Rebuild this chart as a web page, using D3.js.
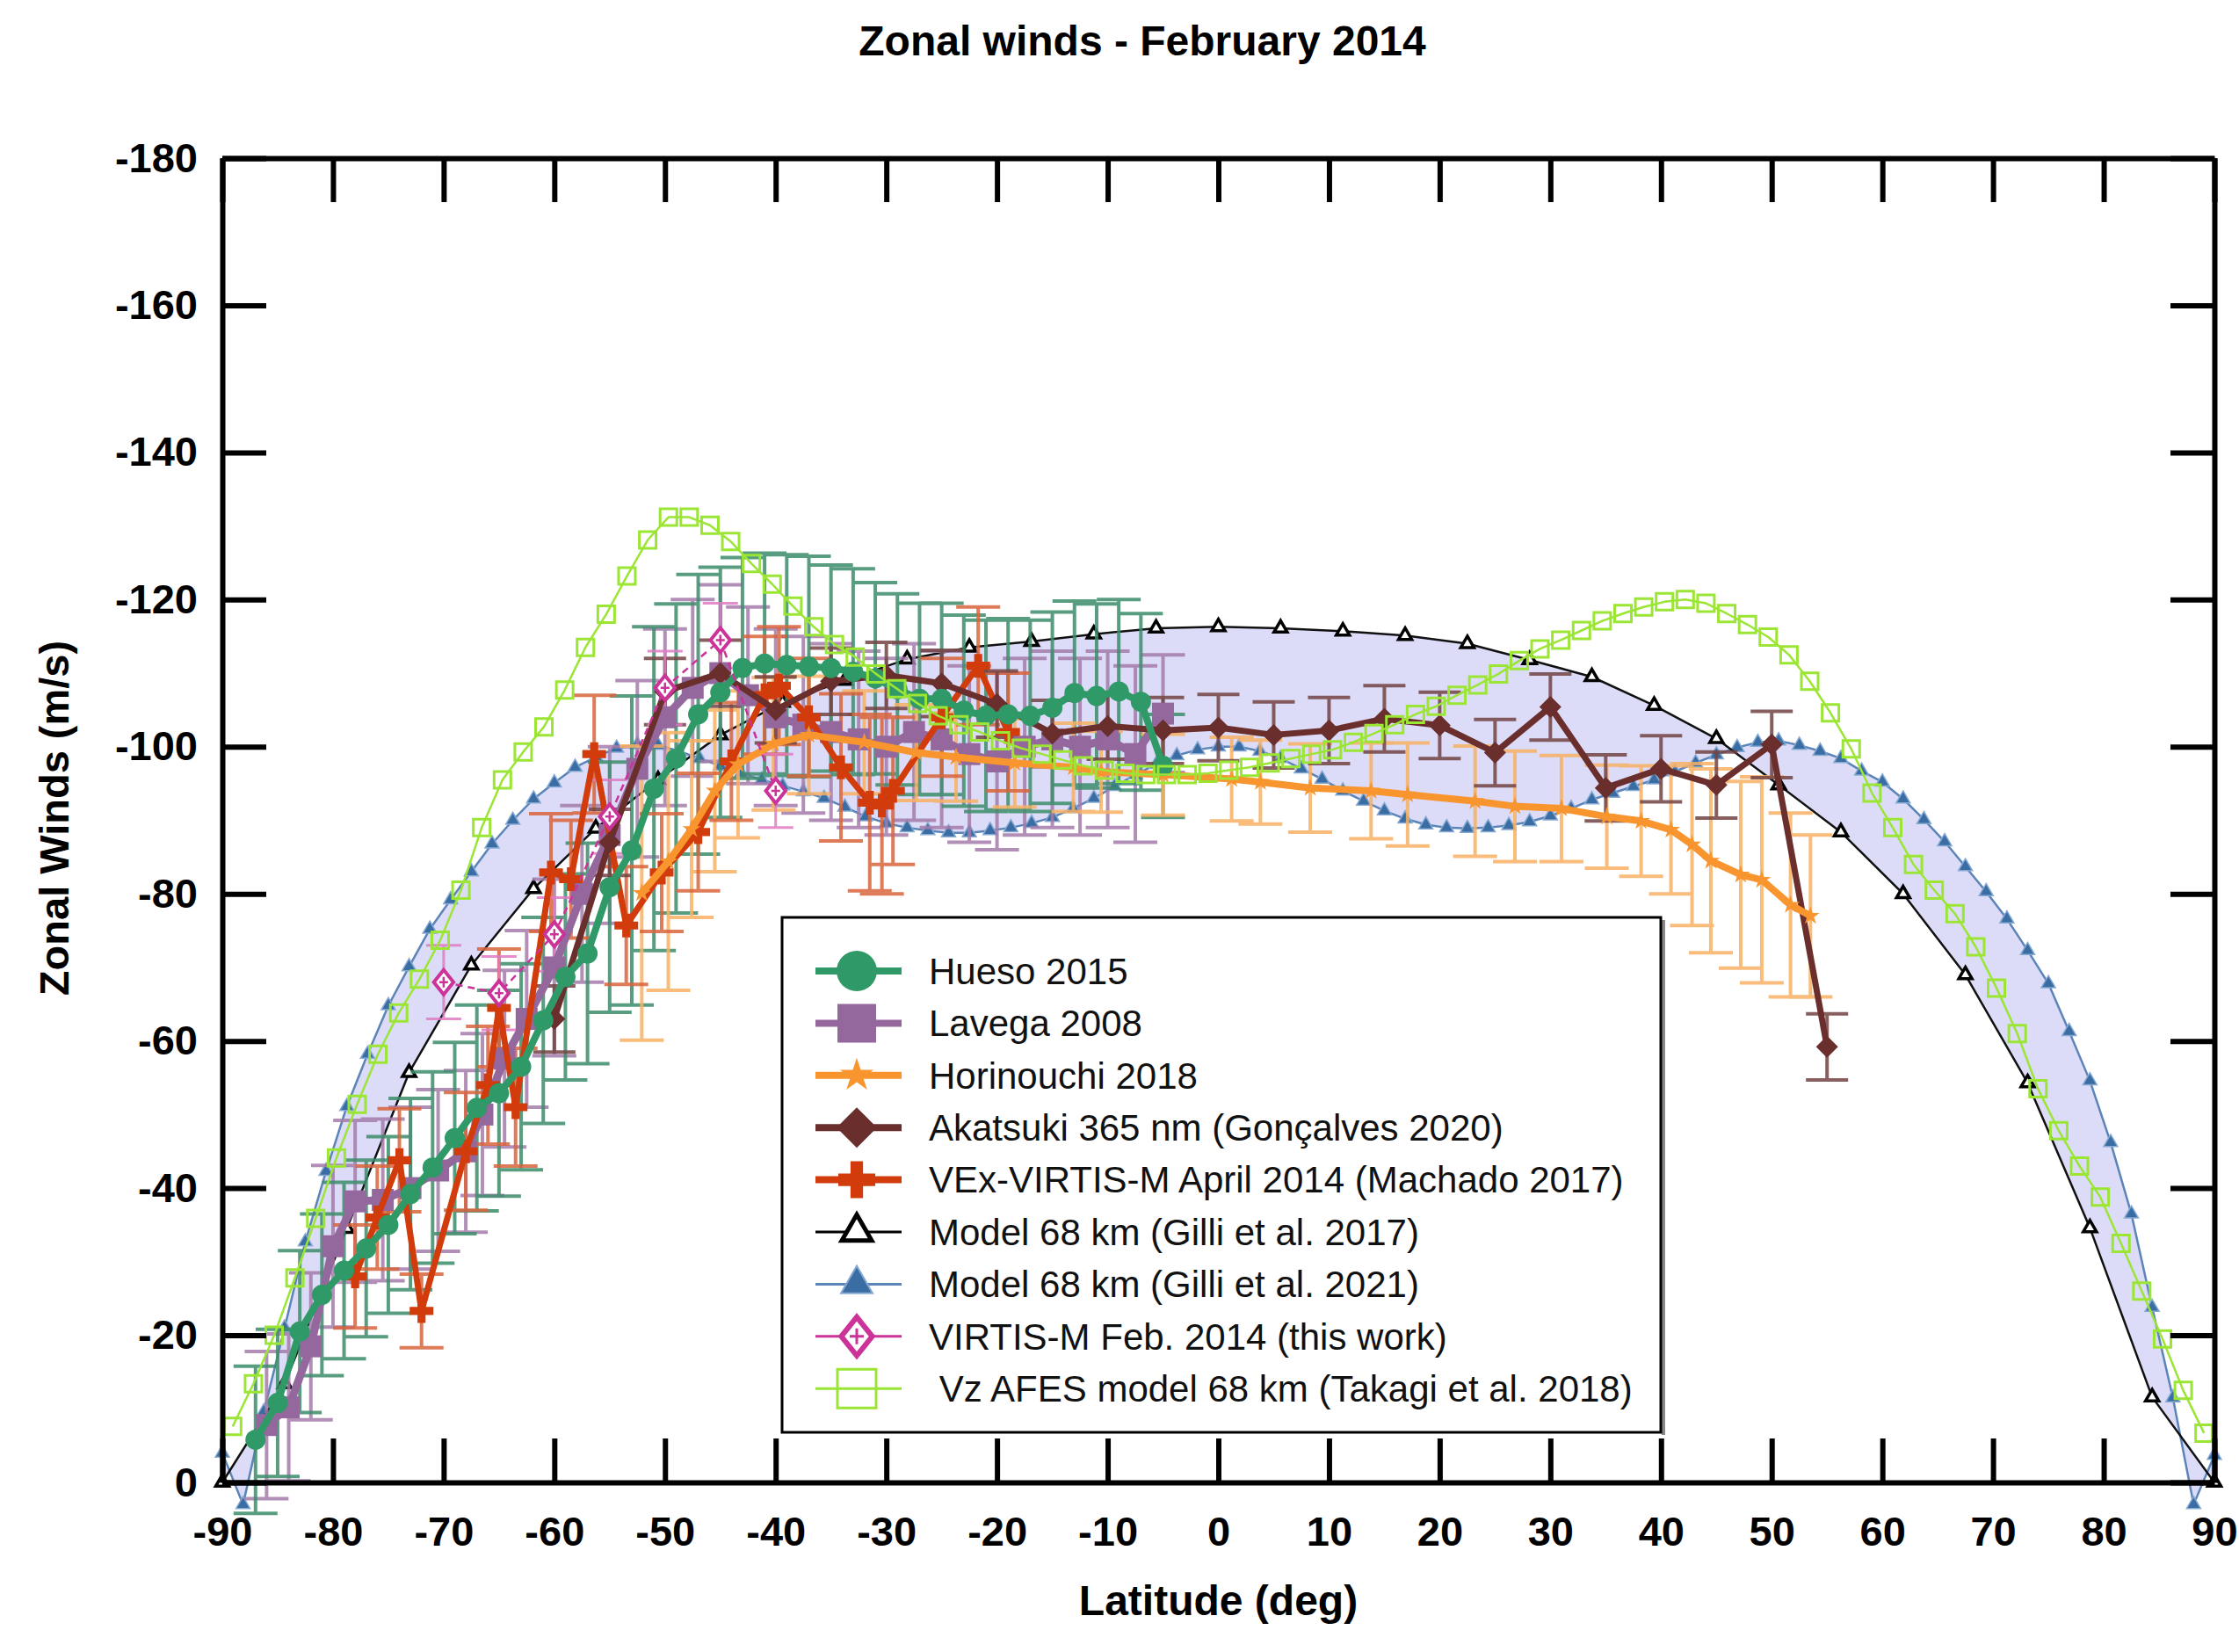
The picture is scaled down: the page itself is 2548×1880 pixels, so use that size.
<!DOCTYPE html>
<html>
<head>
<meta charset="utf-8">
<title>Zonal winds - February 2014</title>
<script src="https://cdn.jsdelivr.net/npm/d3@7"></script>
<style>
  body { margin: 0; background: #fff; }
  svg text { font-family: "Liberation Sans", Arial, sans-serif; }
</style>
</head>
<body>
<div id="chart"></div>
<script>

// ---- data (latitude in deg, zonal wind in m/s) ----

// Hueso 2015
let huesoLat = [-87, -85, -83, -81, -79, -77, -75, -73, -71, -69, -67, -65, -63, -61, -59, -57, -55, -53, -51, -49,
  -47, -45, -43, -41, -39, -37, -35, -33, -31, -29, -27, -25, -23, -21, -19, -17, -15, -13, -11, -9, -7, -5];
let huesoV = [-5.8, -10.8, -20.5, -25.5, -28.8, -31.8, -35.0, -39.2, -42.8, -46.8, -50.9, -52.9, -56.5, -62.8, -68.7,
  -71.9, -80.9, -85.9, -94.3, -98.4, -104.4, -107.4, -110.7, -111.3, -111.1, -110.9, -110.7, -110.2, -109.3, -107.8,
  -106.5, -106.5, -104.9, -104.2, -104.4, -104.2, -105.3, -107.3, -106.9, -107.5, -106.1, -97.4];
let huesoErr = [10, 10, 11, 11, 12, 12, 12, 13, 13, 13, 14, 14, 14, 14, 14, 15, 17, 21, 22, 21,
  19, 17, 15, 15, 15, 15, 14, 14, 13, 13, 13, 13, 13, 13, 13, 13, 13, 12.5, 12.5, 12.5, 12, 7];

// Lavega 2008
let lavegaLat = [-86, -84, -82, -80, -78, -75.5, -73, -70.5, -68, -66.5, -64.5, -62.5, -60, -57.5, -55, -52.5, -50,
  -47.5, -45, -42.5, -40, -37.5, -35, -32.5, -30, -27.5, -25, -22.5, -20, -17.5, -15, -12.5, -10, -7.5, -5];
let lavegaV = [-7.8, -10.2, -18.5, -32.1, -38.2, -38.4, -40.0, -42.4, -45.0, -50, -57.6, -63, -70, -80, -88, -97,
  -104, -108, -110, -107, -104, -103, -102, -101, -100, -102, -101, -99, -98, -100, -101, -100, -101, -99, -104.5];
let lavegaErr = [10, 10, 10, 11, 11, 11, 11, 11, 11, 11, 12, 12, 12, 12, 12, 12, 12, 12, 12, 12,
  12, 12, 12, 12, 12, 12, 12, 12, 12, 12, 12, 12, 12, 12, 8];

// Horinouchi 2018
let horiLat = [-52.1, -49.7, -47.6, -45.5, -43.4, -40.2, -37.0, -32, -27.3, -23.7, -18.4, -13.1, -10.6, -5, 1.2,
  3.8, 8.3, 13.8, 17.1, 23.2, 26.8, 31.0, 35.1, 38.2, 40.9, 42.8, 44.5, 47.2, 49.1, 51.7, 53.5];
let horiV = [-80.1, -84.4, -88.8, -94.0, -97.6, -100.4, -101.6, -100.6, -99.2, -98.6, -97.8, -97.2, -96.6, -96.2,
  -95.6, -95.2, -94.4, -94.0, -93.5, -92.6, -91.9, -91.6, -90.5, -89.9, -88.7, -86.7, -84.5, -82.6, -81.9, -78.5, -77.0];
let horiErr = [20, 17.5, 12, 11, 10, 9, 8, 7, 6.5, 6, 6, 6, 5.5, 5.5, 5.7, 5.7, 6, 6.5, 7, 7.5,
  7.5, 7.2, 7, 7.5, 8.7, 11, 12.5, 12.7, 14, 12.5, 11];

// Akatsuki 365 nm (Goncalves 2020)
let akaLat = [-60, -55, -50, -45, -40, -35, -30, -25, -20, -15, -10, -5, 0, 5, 10, 15, 20, 25, 30, 35, 40, 45, 50, 55];
let akaV = [-63, -87, -107.5, -110, -105, -108.9, -109.7, -108.6, -105.8, -101.8, -102.8, -102.2, -102.6, -101.6,
  -102.2, -103.8, -102.9, -99.2, -105.4, -94.4, -97.0, -94.8, -100.3, -59.2];
let akaErr = [4.5, 4.5, 4.5, 4.5, 4.5, 4.5, 4.5, 4.5, 4.5, 4.5, 4.5, 4.5, 4.5, 4.5, 4.5, 4.5, 4.5, 4.5, 4.5, 4.5,
  4.5, 4.5, 4.5, 4.5];

// VEx-VIRTIS-M April 2014 (Machado 2017)
let machLat = [-78, -76, -74, -72, -68, -66, -65, -63.5, -60.3, -58.5, -56.4, -53.5, -50.3, -47, -44, -41, -39.7,
  -37, -34.1, -31.5, -30.4, -29.4, -25, -21.7, -19];
let machV = [-28, -36, -43.8, -23.3, -45, -54, -64.5, -51, -82.9, -82, -99, -75.7, -82.9, -88.4, -98, -107, -108.3,
  -104, -97.2, -92.4, -92, -94, -104, -111, -102];
let machErr = [7, 7, 7, 5, 8, 8, 8, 8, 8, 8, 8, 8, 8, 8, 8, 8, 8, 8, 10, 12, 12, 10, 8, 8, 8];

// VIRTIS-M Feb. 2014 (this work)
let virLat = [-70, -65, -60, -55, -50, -45, -40];
let virV = [-68, -66.5, -74.5, -90.5, -108, -114.5, -94];
let virErr = [5, 5, 5, 5, 5, 5, 5];

// Model 68 km (Gilli et al. 2017)
let gilli17Lat = [-90, -84.375, -78.75, -73.125, -67.5, -61.875, -56.25, -50.625, -45, -39.375, -33.75, -28.125,
  -22.5, -16.875, -11.25, -5.625, 0, 5.625, 11.25, 16.875, 22.5, 28.125, 33.75, 39.375, 45, 50.625, 56.25, 61.875,
  67.5, 73.125, 78.75, 84.375, 90];
let gilli17V = [0, -13.4, -34.5, -55.7, -70.3, -80.7, -88.9, -95.5, -101.6, -106, -109.0, -111.9, -113.5, -114.3,
  -115.3, -116.1, -116.3, -116.1, -115.7, -115.1, -114.0, -111.8, -109.5, -105.6, -101.1, -94.8, -88.4, -80.0,
  -69.0, -54.3, -34.6, -11.6, 0];

// Model 68 km (Gilli et al. 2021)
let gilli21Lat = [-90, -88.125, -86.25, -84.375, -82.5, -80.625, -78.75, -76.875, -75, -73.125, -71.25, -69.375,
  -67.5, -65.625, -63.75, -61.875, -60, -58.125, -56.25, -54.375, -52.5, -50.625, -48.75, -46.875, -45, -43.125,
  -41.25, -39.375, -37.5, -35.625, -33.75, -31.875, -30, -28.125, -26.25, -24.375, -22.5, -20.625, -18.75, -16.875,
  -15, -13.125, -11.25, -9.375, -7.5, -5.625, -3.75, -1.875, 0, 1.875, 3.75, 5.625, 7.5, 9.375, 11.25, 13.125, 15,
  16.875, 18.75, 20.625, 22.5, 24.375, 26.25, 28.125, 30, 31.875, 33.75, 35.625, 37.5, 39.375, 41.25, 43.125, 45,
  46.875, 48.75, 50.625, 52.5, 54.375, 56.25, 58.125, 60, 61.875, 63.75, 65.625, 67.5, 69.375, 71.25, 73.125, 75,
  76.875, 78.75, 80.625, 82.5, 84.375, 86.25, 88.125, 90];
let gilli21V = [-4.0, 3.0, -9.6, -21.0, -32.7, -42.3, -51.1, -58.2, -64.8, -70.1, -75.2, -79.2, -83.0, -86.8, -90.0,
  -92.9, -95.1, -97.2, -98.6, -99.8, -100.3, -100.2, -99.4, -98.4, -97.4, -96.4, -95.5, -94.7, -93.9, -93.0, -91.8,
  -90.5, -89.6, -89.0, -88.6, -88.3, -88.3, -88.6, -89.0, -89.6, -90.4, -91.6, -93.0, -94.6, -96.2, -97.6, -98.8,
  -99.6, -100.0, -100.0, -99.4, -98.4, -97.0, -95.6, -94.0, -92.6, -91.3, -90.2, -89.4, -89.0, -88.9, -89.0, -89.3,
  -89.8, -90.6, -91.6, -92.8, -93.7, -94.6, -95.5, -96.6, -97.8, -98.9, -99.9, -100.6, -100.8, -100.2, -99.4, -98.4,
  -96.7, -95.2, -92.9, -90.1, -87.1, -83.7, -80.3, -76.6, -72.3, -67.8, -61.3, -54.6, -46.2, -36.5, -23.8, -11.5,
  3.0, -3.7];

// Vz AFES model 68 km (Takagi et al. 2018)
let takagiLat = [-89.0625, -87.1875, -85.3125, -83.4375, -81.5625, -79.6875, -77.8125, -75.9375, -74.0625, -72.1875,
  -70.3125, -68.4375, -66.5625, -64.6875, -62.8125, -60.9375, -59.0625, -57.1875, -55.3125, -53.4375, -51.5625,
  -49.6875, -47.8125, -45.9375, -44.0625, -42.1875, -40.3125, -38.4375, -36.5625, -34.6875, -32.8125, -30.9375,
  -29.0625, -27.1875, -25.3125, -23.4375, -21.5625, -19.6875, -17.8125, -15.9375, -14.0625, -12.1875, -10.3125,
  -8.4375, -6.5625, -4.6875, -2.8125, -0.9375, 0.9375, 2.8125, 4.6875, 6.5625, 8.4375, 10.3125, 12.1875, 14.0625,
  15.9375, 17.8125, 19.6875, 21.5625, 23.4375, 25.3125, 27.1875, 29.0625, 30.9375, 32.8125, 34.6875, 36.5625,
  38.4375, 40.3125, 42.1875, 44.0625, 45.9375, 47.8125, 49.6875, 51.5625, 53.4375, 55.3125, 57.1875, 59.0625,
  60.9375, 62.8125, 64.6875, 66.5625, 68.4375, 70.3125, 72.1875, 74.0625, 75.9375, 77.8125, 79.6875, 81.5625,
  83.4375, 85.3125, 87.1875, 89.0625];
let takagiV = [-7.6, -13.4, -20.0, -27.8, -35.9, -44.1, -51.4, -58.2, -63.8, -68.4, -73.7,
  -80.5, -89.0, -95.5, -99.3, -102.7, -107.7, -113.5, -118.0, -123.2, -128.1,
  -131.2, -131.2, -130.1, -127.9, -124.9, -122.1, -119.1, -116.3, -113.9, -112.2,
  -109.9, -107.9, -105.9, -104.2, -103.0, -102.0, -100.8, -99.8, -99.0, -98.2,
  -97.4, -96.8, -96.4, -96.2, -96.2, -96.2, -96.4, -96.8, -97.2, -97.8,
  -98.4, -99.0, -99.6, -100.6, -101.8, -103.0, -104.4, -105.5, -107.0, -108.4,
  -109.9, -111.7, -113.3, -114.5, -115.8, -117.1, -118.1, -119.0, -119.7, -120.0,
  -119.5, -118.1, -116.6, -114.9, -112.5, -108.9, -104.6, -99.7, -93.7, -89.0,
  -84.0, -80.5, -77.3, -72.8, -67.2, -61.0, -53.5, -47.8, -43.0, -38.8,
  -32.5, -26.0, -19.5, -12.5, -6.7];

// axis ticks
let xTicks = [-90, -80, -70, -60, -50, -40, -30, -20, -10, 0, 10, 20, 30, 40, 50, 60, 70, 80, 90];
let yTicks = [-180, -160, -140, -120, -100, -80, -60, -40, -20, 0];

// legend labels
let legendLabels = ['Hueso 2015', 'Lavega 2008', 'Horinouchi 2018', 'Akatsuki 365 nm (Gonçalves 2020)',
  'VEx-VIRTIS-M April 2014 (Machado 2017)', 'Model 68 km (Gilli et al. 2017)', 'Model 68 km (Gilli et al. 2021)',
  'VIRTIS-M Feb. 2014 (this work)', ' Vz AFES model 68 km (Takagi et al. 2018)'];


// ---- layout ----
var width = 2548;
var height = 1880;
var margin = { top: 180, right: 28, bottom: 193, left: 253 };

var svg = d3.select('#chart').append('svg')
  .attr('width', width)
  .attr('height', height);

var x = d3.scaleLinear().domain([-90, 90]).range([margin.left, width - margin.right]);
var y = d3.scaleLinear().domain([-180, 0]).range([margin.top, height - margin.bottom]);

function zip(lat, v) {
  return lat.map(function (d, i) { return [d, v[i]]; });
}

// marker shapes, s = nominal size in px
function markerPath(type, s) {
  var r = s / 2;
  if (type === 'circle') return d3.symbol(d3.symbolCircle, Math.PI * r * r)();
  if (type === 'square') return 'M' + (-r) + ',' + (-r) + 'H' + r + 'V' + r + 'H' + (-r) + 'Z';
  if (type === 'diamond') return 'M0,' + (-r) + 'L' + r + ',0L0,' + r + 'L' + (-r) + ',0Z';
  if (type === 'tdiamond') return 'M0,' + (-r) + 'L' + (r * 0.8) + ',0L0,' + r + 'L' + (-r * 0.8) + ',0Z';
  if (type === 'star') return d3.symbol(d3.symbolStar, r * r / 0.8908130915292852)();
  if (type === 'triangle') return d3.symbol(d3.symbolTriangle, s * s * Math.sqrt(3) / 4)();
  if (type === 'plus') {
    var t = s * 0.17;
    return 'M' + (-t) + ',' + (-r) + 'H' + t + 'V' + (-t) + 'H' + r + 'V' + t + 'H' + t + 'V' + r +
      'H' + (-t) + 'V' + t + 'H' + (-r) + 'V' + (-t) + 'H' + (-t) + 'Z';
  }
  return '';
}

var styles = {
  hueso:   { color: '#2f9967', err: '#3d8d6c', lineW: 8, marker: 'circle', size: 23, legSize: 46 },
  lavega:  { color: '#94679d', err: '#a47cab', lineW: 9, marker: 'square', size: 25, legSize: 44 },
  hori:    { color: '#f8952f', err: '#f8b163', lineW: 8, marker: 'star', size: 22, legSize: 40 },
  aka:     { color: '#6a2e2c', err: '#734444', lineW: 7, marker: 'diamond', size: 25, legSize: 46 },
  mach:    { color: '#d23c0c', err: '#d9643c', lineW: 7, marker: 'plus', size: 27, legSize: 42 },
  gilli17: { color: '#000000', lineW: 2.5, marker: 'triangle', size: 15, legSize: 34 },
  gilli21: { color: '#3a6da4', lineW: 2.5, marker: 'triangle', size: 16, legSize: 36 },
  vir:     { color: '#cc3399', err: '#e07cc4', lineW: 2.5, marker: 'tdiamond', size: 28, legSize: 44 },
  takagi:  { color: '#9be534', lineW: 2.5, marker: 'square', size: 19, legSize: 44 }
};

var line = d3.line().x(function (d) { return x(d[0]); }).y(function (d) { return y(d[1]); });

// band between the two Gilli models
var g17 = zip(gilli17Lat, gilli17V);
var g21 = zip(gilli21Lat, gilli21V);
svg.append('path')
  .attr('d', line(g17.concat(g21.slice().reverse())) + 'Z')
  .attr('fill', '#dcdcf8')
  .attr('stroke', 'none');

function drawMarkers(g, pts, st, opts) {
  g.selectAll(null)
    .data(pts)
    .enter().append('path')
    .attr('transform', function (d) { return 'translate(' + x(d[0]) + ',' + y(d[1]) + ')'; })
    .attr('d', markerPath(st.marker, st.size))
    .attr('fill', opts.fill)
    .attr('stroke', opts.stroke || 'none')
    .attr('stroke-width', opts.strokeW || 0);
}

function drawErrors(g, lat, v, err, color, capW, sw) {
  var eg = g.append('g').attr('stroke', color).attr('stroke-width', sw).attr('opacity', 0.85);
  lat.forEach(function (la, i) {
    var cx = x(la), y1 = y(v[i] - err[i]), y2 = y(v[i] + err[i]);
    eg.append('line').attr('x1', cx).attr('x2', cx).attr('y1', y1).attr('y2', y2);
    eg.append('line').attr('x1', cx - capW / 2).attr('x2', cx + capW / 2).attr('y1', y1).attr('y2', y1);
    eg.append('line').attr('x1', cx - capW / 2).attr('x2', cx + capW / 2).attr('y1', y2).attr('y2', y2);
  });
}

function drawLine(g, pts, color, w, dash) {
  g.append('path')
    .attr('d', line(pts))
    .attr('fill', 'none')
    .attr('stroke', color)
    .attr('stroke-width', w)
    .attr('stroke-linejoin', 'round')
    .attr('stroke-dasharray', dash || null);
}

var plot = svg.append('g');

// models
drawLine(plot, g21, '#5b84b8', styles.gilli21.lineW);
drawMarkers(plot, g21, styles.gilli21, { fill: '#3a6da4', stroke: '#86a9d2', strokeW: 1.5 });
drawLine(plot, g17, '#111', styles.gilli17.lineW);
drawMarkers(plot, g17, styles.gilli17, { fill: '#fff', stroke: '#000', strokeW: 3.5 });

// error bars
drawErrors(plot, lavegaLat, lavegaV, lavegaErr, styles.lavega.err, 50, 4);
drawErrors(plot, huesoLat, huesoV, huesoErr, styles.hueso.err, 50, 4);
drawErrors(plot, horiLat, horiV, horiErr, styles.hori.err, 50, 4);
drawErrors(plot, machLat, machV, machErr, styles.mach.err, 50, 4);
drawErrors(plot, akaLat, akaV, akaErr, styles.aka.err, 48, 4);
drawErrors(plot, virLat, virV, virErr, styles.vir.err, 40, 3);

// observations
var obs = [
  ['lavega', lavegaLat, lavegaV],
  ['mach', machLat, machV],
  ['aka', akaLat, akaV],
  ['hori', horiLat, horiV],
  ['hueso', huesoLat, huesoV]
];
obs.forEach(function (o) {
  var st = styles[o[0]];
  var pts = zip(o[1], o[2]);
  drawLine(plot, pts, st.color, st.lineW);
  drawMarkers(plot, pts, st, { fill: st.color });
});

// Takagi model
var tk = zip(takagiLat, takagiV);
drawLine(plot, tk, styles.takagi.color, styles.takagi.lineW);
drawMarkers(plot, tk, styles.takagi, { fill: 'none', stroke: styles.takagi.color, strokeW: 3 });

// VIRTIS-M this work
var vr = zip(virLat, virV);
drawLine(plot, vr, styles.vir.color, styles.vir.lineW, '8,6');
drawMarkers(plot, vr, styles.vir, { fill: '#fff', stroke: styles.vir.color, strokeW: 4 });
plot.selectAll(null).data(vr).enter().append('path')
  .attr('transform', function (d) { return 'translate(' + x(d[0]) + ',' + y(d[1]) + ')'; })
  .attr('d', 'M-5,0H5M0,-6V6')
  .attr('stroke', styles.vir.color)
  .attr('stroke-width', 2.5);

// ---- axes ----
function styleAxis(g) {
  g.select('.domain').attr('stroke', '#000').attr('stroke-width', 6);
  g.selectAll('.tick line').attr('stroke', '#000').attr('stroke-width', 6);
  g.selectAll('.tick text')
    .attr('fill', '#000')
    .style('font-size', '47px')
    .style('font-weight', 'bold');
}
var fmt = function (d) { return String(d); };

svg.append('g')
  .attr('transform', 'translate(0,' + y(0) + ')')
  .call(d3.axisBottom(x).tickValues(xTicks).tickFormat(fmt).tickSize(-50).tickSizeOuter(0).tickPadding(39))
  .call(styleAxis);
svg.append('g')
  .attr('transform', 'translate(0,' + y(-180) + ')')
  .call(d3.axisTop(x).tickValues(xTicks).tickFormat('').tickSize(-50).tickSizeOuter(0))
  .call(styleAxis);
svg.append('g')
  .attr('transform', 'translate(' + x(-90) + ',0)')
  .call(d3.axisLeft(y).tickValues(yTicks).tickFormat(fmt).tickSize(-50).tickSizeOuter(0).tickPadding(28))
  .call(styleAxis);
svg.append('g')
  .attr('transform', 'translate(' + x(90) + ',0)')
  .call(d3.axisRight(y).tickValues(yTicks).tickFormat('').tickSize(-50).tickSizeOuter(0))
  .call(styleAxis);

// titles
svg.append('text')
  .attr('x', 1300).attr('y', 46).attr('dy', '0.35em')
  .attr('text-anchor', 'middle')
  .style('font-size', '48px').style('font-weight', 'bold')
  .text('Zonal winds - February 2014');
svg.append('text')
  .attr('x', (x(-90) + x(90)) / 2).attr('y', 1821).attr('dy', '0.35em')
  .attr('text-anchor', 'middle')
  .style('font-size', '48px').style('font-weight', 'bold')
  .text('Latitude (deg)');
svg.append('text')
  .attr('transform', 'translate(62,931) rotate(-90)')
  .attr('dy', '0.35em')
  .attr('text-anchor', 'middle')
  .style('font-size', '47px').style('font-weight', 'bold')
  .text('Zonal Winds (m/s)');

// ---- legend ----
var leg = svg.append('g');
leg.append('line').attr('x1', 1893).attr('x2', 1893).attr('y1', 1047).attr('y2', 1633)
  .attr('stroke', '#888').attr('stroke-width', 4);
leg.append('rect')
  .attr('x', 890).attr('y', 1044).attr('width', 1000).attr('height', 586)
  .attr('fill', '#fff').attr('stroke', '#000').attr('stroke-width', 3);

var legKeys = ['hueso', 'lavega', 'hori', 'aka', 'mach', 'gilli17', 'gilli21', 'vir', 'takagi'];
legKeys.forEach(function (k, i) {
  var st = styles[k];
  var cy = 1105 + i * 59.4;
  var row = leg.append('g').attr('transform', 'translate(0,' + cy + ')');
  var lw = (k === 'gilli17' || k === 'gilli21' || k === 'vir' || k === 'takagi') ? 3 : 8;
  row.append('line').attr('x1', 928).attr('x2', 1026).attr('y1', 0).attr('y2', 0)
    .attr('stroke', k === 'gilli21' ? '#5b84b8' : st.color).attr('stroke-width', lw);
  var m = row.append('path')
    .attr('transform', 'translate(975,0)')
    .attr('d', markerPath(st.marker, st.legSize));
  if (k === 'gilli17') m.attr('fill', '#fff').attr('stroke', '#000').attr('stroke-width', 5);
  else if (k === 'gilli21') m.attr('fill', '#3a6da4').attr('stroke', '#86a9d2').attr('stroke-width', 2);
  else if (k === 'vir') m.attr('fill', '#fff').attr('stroke', st.color).attr('stroke-width', 6);
  else if (k === 'takagi') m.attr('fill', 'none').attr('stroke', st.color).attr('stroke-width', 3);
  else m.attr('fill', st.color);
  if (k === 'vir') {
    row.append('path').attr('d', 'M967,0H983M975,-9V9').attr('stroke', st.color).attr('stroke-width', 3);
  }
  row.append('text')
    .attr('x', 1057).attr('y', 0).attr('dy', '0.35em')
    .attr('xml:space', 'preserve')
    .style('white-space', 'pre')
    .style('font-size', '42px')
    .attr('fill', '#111')
    .text(legendLabels[i]);
});

</script>
</body>
</html>
